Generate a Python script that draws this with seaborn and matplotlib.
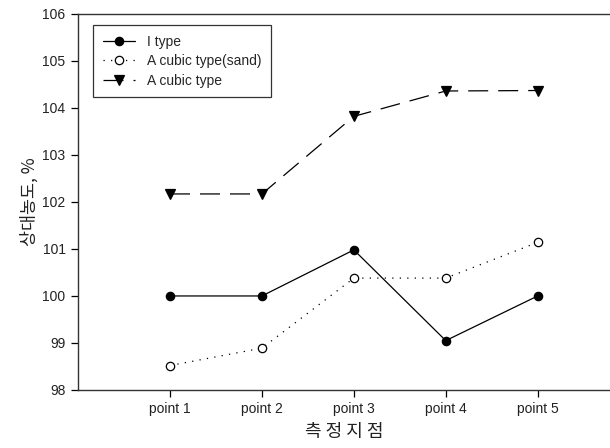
import matplotlib
matplotlib.use("Agg")
import matplotlib.pyplot as plt
import seaborn as sns
import pandas as pd

points = ["point 1", "point 2", "point 3", "point 4", "point 5"]
i_type = [100.0, 100.0, 100.98, 99.05, 100.0]
cubic_sand = [98.52, 98.89, 100.38, 100.38, 101.14]
cubic = [102.17, 102.17, 103.82, 104.36, 104.37]

series_names = ["I type", "A cubic type(sand)", "A cubic type"]
y_ticks = [98, 99, 100, 101, 102, 103, 104, 105, 106]

sns.set_theme(style="white")
plt.rcParams["font.family"] = ["Liberation Sans", "Noto Sans CJK KR", "DejaVu Sans"]

fig = plt.figure(figsize=(6.1, 4.48), dpi=100)
ax = fig.add_axes([0.128, 0.1295, 0.874, 0.8395])

styles = [
    dict(marker="o", linestyle="-", markerfacecolor="black", markersize=6),
    dict(marker="o", linestyle=(0, (1, 5)), markerfacecolor="white", markersize=6),
    dict(marker="v", linestyle=(0, (16, 8)), markerfacecolor="black", markersize=6.5),
]

for name, vals, st in zip(series_names, [i_type, cubic_sand, cubic], styles):
    df = pd.DataFrame({"point": points, "value": vals})
    sns.lineplot(data=df, x="point", y="value", ax=ax, color="black",
                 linewidth=0.9, markeredgecolor="black", markeredgewidth=0.9,
                 label=name, **st)

ax.set_xlim(-1, 4.8)
ax.set_ylim(98, 106)
ax.set_yticks(y_ticks)
ax.set_yticklabels([str(t) for t in y_ticks], fontsize=10)
ax.set_xticks(range(len(points)))
ax.set_xticklabels(points, fontsize=10)
ax.tick_params(axis="both", direction="out", length=5, width=0.9, color="black",
               left=True, bottom=True, pad=4, labelcolor="#222222")

for side in ["left", "bottom", "top"]:
    ax.spines[side].set_color("#333333")
    ax.spines[side].set_linewidth(1.0)
ax.spines["right"].set_visible(False)

ax.set_xlabel("측 정 지 점", fontsize=13, family=["Noto Sans CJK KR"], labelpad=5,
              color="#222222")
ax.set_ylabel("상대농도, %", fontsize=12.5, family=["Noto Sans CJK KR", "DejaVu Sans"],
              labelpad=3, color="#222222")

leg = ax.legend(loc="upper left", bbox_to_anchor=(0.028, 0.971), fontsize=10,
                frameon=True, fancybox=False, handlelength=2.3, handletextpad=0.9,
                labelspacing=0.4, borderpad=0.7, borderaxespad=0.0)
leg.get_frame().set_edgecolor("black")
leg.get_frame().set_linewidth(0.9)

fig.savefig("out.png", dpi=100, facecolor="white")
